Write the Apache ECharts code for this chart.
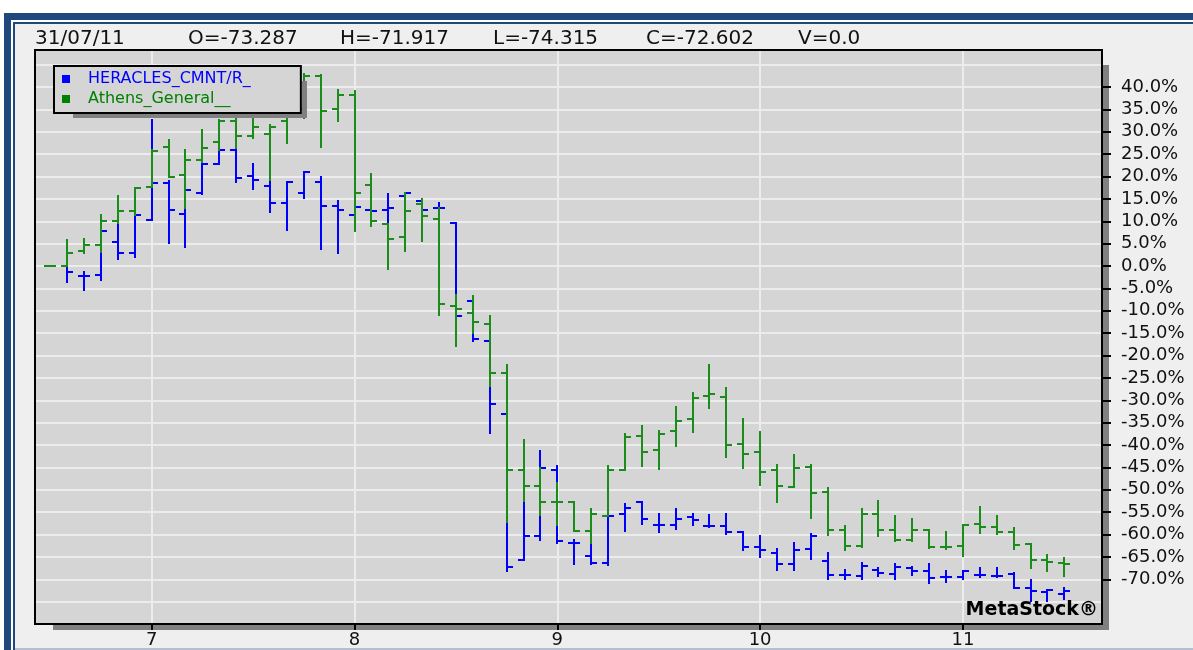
<!DOCTYPE html>
<html>
<head>
<meta charset="utf-8">
<title>HERACLES_CMNT vs Athens_General</title>
<script src="https://cdn.jsdelivr.net/npm/echarts@6.0.0/dist/echarts.min.js"></script>
<style>
  html, body { margin: 0; padding: 0; background: #fff; }
  #chart { width: 1193px; height: 650px; }
</style>
</head>
<body>
<div id="chart"></div>
<script>
// monthly bars, both series rebased to 0% at the first month
const months = [
    '2006-07', '2006-08', '2006-09', '2006-10', '2006-11', '2006-12',
    '2007-01', '2007-02', '2007-03', '2007-04', '2007-05', '2007-06', '2007-07', '2007-08', '2007-09', '2007-10', '2007-11', '2007-12',
    '2008-01', '2008-02', '2008-03', '2008-04', '2008-05', '2008-06', '2008-07', '2008-08', '2008-09', '2008-10', '2008-11', '2008-12',
    '2009-01', '2009-02', '2009-03', '2009-04', '2009-05', '2009-06', '2009-07', '2009-08', '2009-09', '2009-10', '2009-11', '2009-12',
    '2010-01', '2010-02', '2010-03', '2010-04', '2010-05', '2010-06', '2010-07', '2010-08', '2010-09', '2010-10', '2010-11', '2010-12',
    '2011-01', '2011-02', '2011-03', '2011-04', '2011-05', '2011-06', '2011-07'
];

const heraclesOpen = [0, 0, -2.2, -2.0, 5.3, 2.8, 10.3, 18.5, 11.6, 16.4, 22.9, 25.9, 20.1, 17.9, 14.1, 16.4, 18.8, 13.4, 11.5, 12.6, 12.6, 15.6, 14.5, 13.0, 9.5, -7.8, -16.7, -33.1, -65.6, -60.4, -45.5, -61.8, -64.9, -66.4, -55.4, -52.7, -57.8, -57.8, -56.1, -58.1, -58.1, -59.5, -62.8, -64.1, -66.5, -63.2, -66.0, -69.0, -69.3, -67.9, -68.8, -67.5, -68.2, -69.5, -69.5, -69.0, -69.3, -68.8, -72.0, -72.9, -73.287];
const heraclesHigh = [0, 0.3, -1.3, 7.9, 9.2, 11.4, 32.6, 19.0, 17.0, 23.3, 25.9, 26.2, 22.9, 19.0, 18.8, 21.1, 19.9, 14.6, 13.2, 13.2, 16.1, 16.4, 14.7, 14.1, 9.5, -7.5, -16.5, -31.0, -50.0, -41.4, -44.6, -61.2, -62.0, -55.8, -53.1, -52.7, -55.4, -54.3, -55.4, -55.6, -55.4, -59.5, -60.3, -63.2, -61.8, -59.8, -64.1, -68.0, -66.4, -67.5, -66.5, -67.3, -66.6, -68.2, -68.2, -67.5, -67.5, -68.5, -70.1, -72.5, -71.917];
const heraclesLow = [0, -3.5, -5.4, -3.1, 1.5, 2.1, 10.3, 5.2, 4.2, 16.2, 22.9, 18.8, 17.3, 12.1, 8.0, 15.1, 3.7, 3.0, 11.0, 11.8, 9.3, 12.5, 12.5, 11.9, -11.5, -16.7, -37.4, -68.2, -65.6, -61.2, -61.9, -66.7, -66.5, -66.9, -59.3, -57.7, -59.5, -58.8, -57.8, -58.3, -59.8, -63.5, -65.0, -68.0, -67.9, -65.5, -69.9, -69.9, -69.9, -69.3, -69.9, -69.0, -70.8, -70.7, -69.9, -69.5, -69.5, -72.0, -74.9, -74.9, -74.315];
const heraclesClose = [0, -1.3, -2.2, 7.9, 2.8, 11.4, 18.5, 12.6, 17.0, 22.9, 25.9, 19.6, 19.3, 14.1, 18.8, 21.1, 13.4, 12.6, 13.1, 12.3, 13.0, 16.4, 12.6, 13.0, -11.2, -16.4, -30.9, -67.3, -60.3, -45.2, -61.5, -61.9, -66.4, -55.8, -54.1, -56.5, -57.8, -56.5, -56.8, -58.1, -59.5, -62.8, -63.5, -66.5, -63.5, -60.3, -69.0, -69.0, -67.1, -68.6, -67.3, -68.2, -69.7, -69.5, -68.2, -69.0, -69.2, -72.0, -72.7, -72.5, -72.602];

const athensOpen = [0, 0, 3.4, 4.7, 10.0, 12.3, 17.7, 26.6, 20.3, 23.7, 27.8, 32.4, 29.0, 29.6, 32.4, 35.0, 42.5, 35.0, 38.3, 18.2, 9.3, 6.4, 13.8, 10.4, -8.9, -10.4, -13.0, -24.0, -45.5, -49.1, -52.8, -52.8, -59.3, -55.8, -45.5, -37.9, -41.1, -36.8, -34.2, -29.0, -29.2, -39.8, -41.6, -45.5, -49.3, -45.0, -50.6, -58.9, -62.5, -55.4, -58.9, -61.3, -58.9, -62.8, -62.5, -57.6, -58.3, -59.5, -62.1, -65.6, -66.4];
const athensHigh = [0, 5.8, 6.0, 11.4, 15.6, 17.5, 25.9, 28.1, 25.9, 30.4, 32.6, 33.0, 34.1, 31.5, 36.0, 42.8, 42.6, 39.4, 39.1, 20.5, 9.3, 16.4, 14.9, 13.0, -6.5, -6.7, -11.2, -22.1, -38.8, -45.2, -48.4, -52.8, -54.3, -44.8, -37.6, -35.7, -36.8, -31.6, -28.3, -22.1, -27.2, -34.2, -37.1, -44.4, -42.2, -44.4, -49.5, -58.0, -54.3, -52.5, -55.8, -56.5, -58.9, -59.5, -57.9, -53.9, -55.8, -58.5, -62.1, -64.5, -65.3];
const athensLow = [0, 0, 2.8, 3.2, 9.5, 11.4, 17.7, 19.9, 12.9, 23.3, 25.9, 26.3, 28.7, 19.2, 27.4, 33.0, 26.5, 32.4, 7.9, 9.0, -0.7, 3.3, 5.6, -10.9, -17.8, -15.0, -26.9, -57.1, -52.6, -55.6, -57.8, -59.3, -61.9, -55.8, -45.5, -44.6, -45.4, -40.2, -37.2, -31.8, -42.7, -45.2, -49.0, -52.8, -49.3, -56.3, -60.1, -63.5, -62.9, -60.3, -61.5, -61.5, -63.0, -63.2, -64.7, -59.7, -59.8, -63.2, -67.5, -68.2, -69.3];
const athensClose = [0, 3.0, 4.8, 10.0, 12.3, 17.5, 25.7, 19.9, 23.7, 26.3, 32.4, 29.0, 31.1, 31.1, 35.0, 42.5, 34.7, 38.3, 16.4, 10.0, 6.0, 12.3, 11.2, -8.6, -9.7, -12.6, -24.0, -45.5, -49.1, -52.8, -52.8, -59.3, -55.4, -45.5, -38.3, -41.6, -37.6, -34.6, -29.5, -28.6, -40.1, -41.9, -46.0, -49.1, -45.2, -50.7, -58.9, -62.5, -55.4, -58.9, -61.2, -58.9, -62.8, -62.8, -57.9, -58.3, -59.5, -62.3, -65.6, -66.2, -66.7];

const percentTicks = [-70, -65, -60, -55, -50, -45, -40, -35, -30, -25, -20, -15, -10, -5, 0, 5, 10, 15, 20, 25, 30, 35, 40];
const lastDate = '31/07/11';

const BLUE = '#0000FF';
const GREEN = '#1A8C1A';
const FONT = '"DejaVu Sans", sans-serif';

// January of each year gets a tick, labelled with the short year
const yearTicks = months.map((m, i) => (m.endsWith('-01') ? i : -1)).filter(i => i >= 0);
const yearLabel = i => String(Number(months[i].slice(0, 4)) % 100);

function toRows(open, high, low, close) {
    return months.map((m, i) => [i, open[i], high[i], low[i], close[i]]);
}

// OHLC bar: high-low stick, open tick to the left, close tick to the right
function ohlcBar(params, api) {
    const i = api.value(0);
    const o = api.coord([i, api.value(1)]);
    const h = api.coord([i, api.value(2)]);
    const l = api.coord([i, api.value(3)]);
    const c = api.coord([i, api.value(4)]);
    const x = Math.round(o[0]);
    const style = { stroke: api.visual('color'), lineWidth: 2 };
    return {
        type: 'group',
        children: [
            { type: 'line', shape: { x1: x, y1: Math.round(h[1]) - 1, x2: x, y2: Math.round(l[1]) + 1 }, style },
            { type: 'line', shape: { x1: x - 6, y1: Math.round(o[1]), x2: x, y2: Math.round(o[1]) }, style },
            { type: 'line', shape: { x1: x, y1: Math.round(c[1]), x2: x + 6, y2: Math.round(c[1]) }, style },
        ],
    };
}

const last = months.length - 1;
const header = [
    [lastDate, 35],
    ['O=' + heraclesOpen[last].toFixed(3), 188],
    ['H=' + heraclesHigh[last].toFixed(3), 340],
    ['L=' + heraclesLow[last].toFixed(3), 493],
    ['C=' + heraclesClose[last].toFixed(3), 646],
    ['V=0.0', 798],
];

const frameBlue = '#1F497D';
const shadow = '#808080';
const border = { show: true, onZero: false, lineStyle: { color: '#000', width: 2 } };

const graphics = [
    { type: 'rect', shape: { x: 0, y: 0, width: 1193, height: 13 }, style: { fill: '#fff' } },
    { type: 'rect', shape: { x: 0, y: 0, width: 4, height: 650 }, style: { fill: '#fff' } },
    { type: 'rect', shape: { x: 4, y: 13, width: 1189, height: 7 }, style: { fill: frameBlue } },
    { type: 'rect', shape: { x: 4, y: 13, width: 7, height: 637 }, style: { fill: frameBlue } },
    { type: 'rect', shape: { x: 11, y: 20, width: 1182, height: 2 }, style: { fill: '#fff' } },
    { type: 'rect', shape: { x: 11, y: 20, width: 2, height: 630 }, style: { fill: '#fff' } },
    { type: 'rect', shape: { x: 13, y: 22, width: 1180, height: 2 }, style: { fill: frameBlue } },
    { type: 'rect', shape: { x: 13, y: 22, width: 2, height: 628 }, style: { fill: frameBlue } },
    { type: 'rect', shape: { x: 15, y: 648, width: 1178, height: 2 }, style: { fill: '#B4C0D0' } },
    // plot drop shadow
    { type: 'rect', z: -1, shape: { x: 1103, y: 65, width: 6, height: 565 }, style: { fill: shadow } },
    { type: 'rect', z: -1, shape: { x: 53, y: 625, width: 1056, height: 5 }, style: { fill: shadow } },
    // legend drop shadow
    { type: 'rect', z: 20, shape: { x: 302, y: 81, width: 5, height: 37 }, style: { fill: shadow } },
    { type: 'rect', z: 20, shape: { x: 73, y: 114, width: 234, height: 4 }, style: { fill: shadow } },
    {
        type: 'text', right: 1193 - 1098, top: 601, z: 20,
        style: { text: 'MetaStock®', font: 'bold 19px ' + FONT, fill: '#000' },
    },
];
header.forEach(([text, x]) => {
    graphics.push({ type: 'text', left: x, top: 29, style: { text, font: '20px ' + FONT, fill: '#111' } });
});

const chart = echarts.init(document.getElementById('chart'));
chart.setOption({
    animation: false,
    backgroundColor: '#EFEFEF',
    textStyle: { fontFamily: FONT },
    grid: {
        left: 35, top: 50, width: 1067, height: 574,
        show: true, backgroundColor: '#D5D5D5', borderColor: '#000', borderWidth: 2,
    },
    legend: {
        orient: 'vertical', left: 54, top: 66,
        padding: [5, 50, 6, 8], itemWidth: 8, itemHeight: 8, itemGap: 4, icon: 'rect',
        backgroundColor: '#D5D5D5', borderColor: '#000', borderWidth: 2,
        textStyle: { fontSize: 16, padding: [0, 0, 0, 13] },
        data: [
            { name: 'HERACLES_CMNT/R_', textStyle: { color: BLUE } },
            { name: 'Athens_General__', textStyle: { color: '#008000' }, itemStyle: { color: '#008000' } },
        ],
    },
    xAxis: [
        {
            type: 'value', min: -0.905, max: 62.23,
            axisLine: border,
            axisTick: { customValues: yearTicks, length: 6, lineStyle: { color: '#000', width: 2 } },
            axisLabel: { customValues: yearTicks, formatter: v => yearLabel(v), fontSize: 18, color: '#111', margin: 7 },
            splitLine: { show: true, lineStyle: { color: '#ECECEC', width: 2 } },
        },
        {
            // top edge of the plot frame
            type: 'value', position: 'top', min: -0.905, max: 62.23,
            axisLine: border, axisTick: { show: false }, axisLabel: { show: false }, splitLine: { show: false },
        },
    ],
    yAxis: [
        {
            type: 'value', position: 'right', min: -80, max: 48.27, interval: 5,
            axisLine: border,
            axisTick: { show: false }, axisLabel: { show: false },
            splitLine: { show: true, lineStyle: { color: '#ECECEC', width: 2 } },
        },
        {
            type: 'value', position: 'right', min: -80, max: 48.27,
            axisLine: { show: false, onZero: false },
            axisTick: { customValues: percentTicks, length: 9, lineStyle: { color: '#000', width: 2 } },
            axisLabel: { customValues: percentTicks, formatter: v => v.toFixed(1) + '%', fontSize: 18, color: '#111', margin: 19 },
            splitLine: { show: false },
        },
        {
            // left edge of the plot frame
            type: 'value', position: 'left', min: -80, max: 48.27,
            axisLine: border, axisTick: { show: false }, axisLabel: { show: false }, splitLine: { show: false },
        },
    ],
    graphic: graphics,
    series: [
        {
            name: 'HERACLES_CMNT/R_', type: 'custom', renderItem: ohlcBar,
            itemStyle: { color: BLUE }, encode: { x: 0, y: [1, 2, 3, 4] },
            data: toRows(heraclesOpen, heraclesHigh, heraclesLow, heraclesClose),
        },
        {
            name: 'Athens_General__', type: 'custom', renderItem: ohlcBar,
            itemStyle: { color: GREEN }, encode: { x: 0, y: [1, 2, 3, 4] },
            data: toRows(athensOpen, athensHigh, athensLow, athensClose),
        },
    ],
});
</script>
</body>
</html>
